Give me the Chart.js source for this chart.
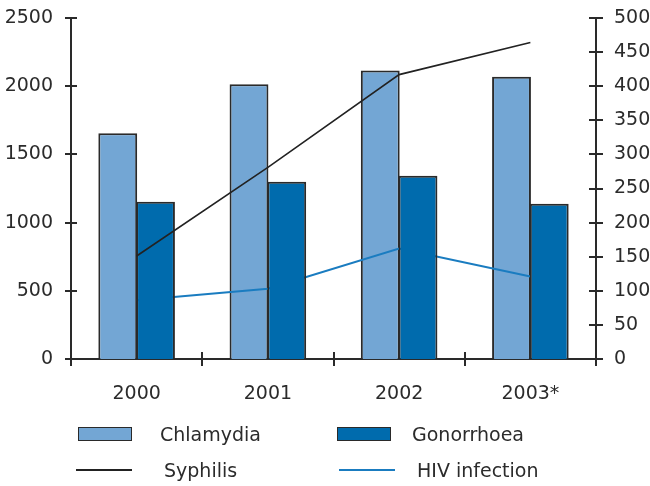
<!DOCTYPE html>
<html>
<head>
<meta charset="utf-8">
<script src="https://cdn.jsdelivr.net/npm/chart.js@4/dist/chart.umd.min.js"></script>
<style>
  html, body { margin: 0; padding: 0; background: #ffffff; }
  #wrap { position: relative; width: 650px; height: 486px; }
  canvas { position: absolute; left: 0; top: 0; }
  .lg { position: absolute; font-family: "DejaVu Sans", sans-serif; font-size: 19px; color: #2b2b2b; line-height: 20px; white-space: nowrap; }
  .box { position: absolute; box-sizing: border-box; border: 1.5px solid #2a2a2a; }
  .ln { position: absolute; }
</style>
</head>
<body>
<div id="wrap">
  <canvas id="c" width="650" height="486"></canvas>
  <div id="legend"></div>
</div>
<script>
const categories = ['2000', '2001', '2002', '2003*'];
const chlamydia = [1655, 2014, 2115, 2070];
const gonorrhoea = [1153, 1300, 1344, 1139];
const syphilis = [151, 281, 417, 464];
const hiv = [86, 103, 162, 121];
const leftTicks = [0, 500, 1000, 1500, 2000, 2500];
const rightTicks = [0, 50, 100, 150, 200, 250, 300, 350, 400, 450, 500];

const INK = '#2a2a2a';
const FONT = { family: '"DejaVu Sans", sans-serif', size: 19 };

const tickPlugin = {
  id: 'crossTicks',
  afterDraw(chart) {
    const ctx = chart.ctx;
    const x = chart.scales.x, yl = chart.scales.y, yr = chart.scales.y2;
    const ca = chart.chartArea;
    ctx.save();
    ctx.strokeStyle = INK;
    ctx.lineWidth = 2;
    ctx.beginPath();
    yl.ticks.forEach((t, i) => {
      const py = Math.round(yl.getPixelForTick(i));
      ctx.moveTo(ca.left - 6, py); ctx.lineTo(ca.left + 6, py);
    });
    yr.ticks.forEach((t, i) => {
      const py = Math.round(yr.getPixelForTick(i));
      ctx.moveTo(ca.right - 7, py); ctx.lineTo(ca.right + 7, py);
    });
    const half = (x.getPixelForTick(1) - x.getPixelForTick(0)) / 2;
    for (let i = 0; i <= categories.length; i++) {
      const px = Math.round(x.getPixelForTick(0) - half + i * 2 * half);
      const top = (i === 0 || i === categories.length) ? ca.bottom : ca.bottom - 7;
      ctx.moveTo(px, top); ctx.lineTo(px, ca.bottom + 7);
    }
    ctx.stroke();
    ctx.restore();
  }
};

// Layering: Chlamydia, then HIV line, then Gonorrhoea, then Syphilis on top
const layerPlugin = {
  id: 'layer',
  beforeDatasetDraw(chart, args) {
    const label = chart.data.datasets[args.index].label;
    if (label === 'HIV infection' || label === 'Chlamydia') return false;
    if (label === 'Gonorrhoea') {
      ['Chlamydia', 'HIV infection'].forEach(l => {
        const i = chart.data.datasets.findIndex(d => d.label === l);
        chart.getDatasetMeta(i).controller.draw();
      });
    }
  }
};

function noPad(s) { s.paddingTop = 0; s.paddingBottom = 0; s.paddingLeft = 0; s.paddingRight = 0; }

new Chart(document.getElementById('c'), {
  type: 'bar',
  data: {
    labels: categories,
    datasets: [
      { type: 'line', label: 'Syphilis', data: syphilis, yAxisID: 'y2', borderColor: '#222222', borderWidth: 1.6, pointRadius: 0, tension: 0, fill: false, order: 0 },
      { type: 'bar', label: 'Chlamydia', data: chlamydia, yAxisID: 'y', backgroundColor: '#73a6d4', borderColor: INK, borderWidth: 2, order: 1 },
      { type: 'bar', label: 'Gonorrhoea', data: gonorrhoea, yAxisID: 'y', backgroundColor: '#006bad', borderColor: INK, borderWidth: 2, order: 1 },
      { type: 'line', label: 'HIV infection', data: hiv, yAxisID: 'y2', borderColor: '#1a7cc0', borderWidth: 2, pointRadius: 0, tension: 0, fill: false, order: 2 }
    ]
  },
  options: {
    responsive: false,
    animation: false,
    devicePixelRatio: 1,
    layout: { padding: { top: 18, left: 0, right: 0, bottom: 0 } },
    datasets: { bar: { categoryPercentage: 0.575, barPercentage: 1.03 } },
    plugins: { legend: { display: false }, tooltip: { enabled: false } },
    scales: {
      x: {
        grid: { display: false, drawTicks: false },
        border: { display: true, color: INK, width: 2 },
        ticks: { color: '#2b2b2b', font: FONT, padding: 24, maxRotation: 0 },
        afterFit(s) { s.height = 127; noPad(s); }
      },
      y: {
        position: 'left',
        min: 0, max: 2500,
        afterBuildTicks(s) { s.ticks = leftTicks.map(v => ({ value: v })); },
        grid: { display: false, drawTicks: false },
        border: { display: true, color: INK, width: 2 },
        ticks: { color: '#2b2b2b', font: FONT, padding: 18, callback: v => String(v) },
        afterFit(s) { s.width = 71; noPad(s); }
      },
      y2: {
        position: 'right',
        min: 0, max: 500,
        afterBuildTicks(s) { s.ticks = rightTicks.map(v => ({ value: v })); },
        grid: { display: false, drawTicks: false },
        border: { display: true, color: INK, width: 2 },
        ticks: { color: '#2b2b2b', font: FONT, padding: 18, callback: v => String(v) },
        afterFit(s) { s.width = 54; noPad(s); }
      }
    }
  },
  plugins: [layerPlugin, tickPlugin]
});

const legendItems = [
  { label: 'Chlamydia', kind: 'box', color: '#73a6d4', sx: 78, sy: 427, tx: 160, ty: 424 },
  { label: 'Gonorrhoea', kind: 'box', color: '#006bad', sx: 337, sy: 427, tx: 412, ty: 424 },
  { label: 'Syphilis', kind: 'line', color: '#222222', sx: 76, sy: 470, tx: 164, ty: 460, w: 1.6 },
  { label: 'HIV infection', kind: 'line', color: '#1a7cc0', sx: 339, sy: 470, tx: 417, ty: 460, w: 2 }
];
const lg = document.getElementById('legend');
legendItems.forEach(it => {
  const s = document.createElement('div');
  if (it.kind === 'box') {
    s.className = 'box';
    s.style.left = it.sx + 'px'; s.style.top = it.sy + 'px';
    s.style.width = '54px'; s.style.height = '14px';
    s.style.background = it.color;
  } else {
    s.className = 'ln';
    s.style.left = it.sx + 'px'; s.style.top = (it.sy - it.w / 2) + 'px';
    s.style.width = '56px'; s.style.height = it.w + 'px';
    s.style.background = it.color;
  }
  lg.appendChild(s);
  const t = document.createElement('div');
  t.className = 'lg';
  t.style.left = it.tx + 'px'; t.style.top = it.ty + 'px';
  t.textContent = it.label;
  lg.appendChild(t);
});
</script>
</body>
</html>
